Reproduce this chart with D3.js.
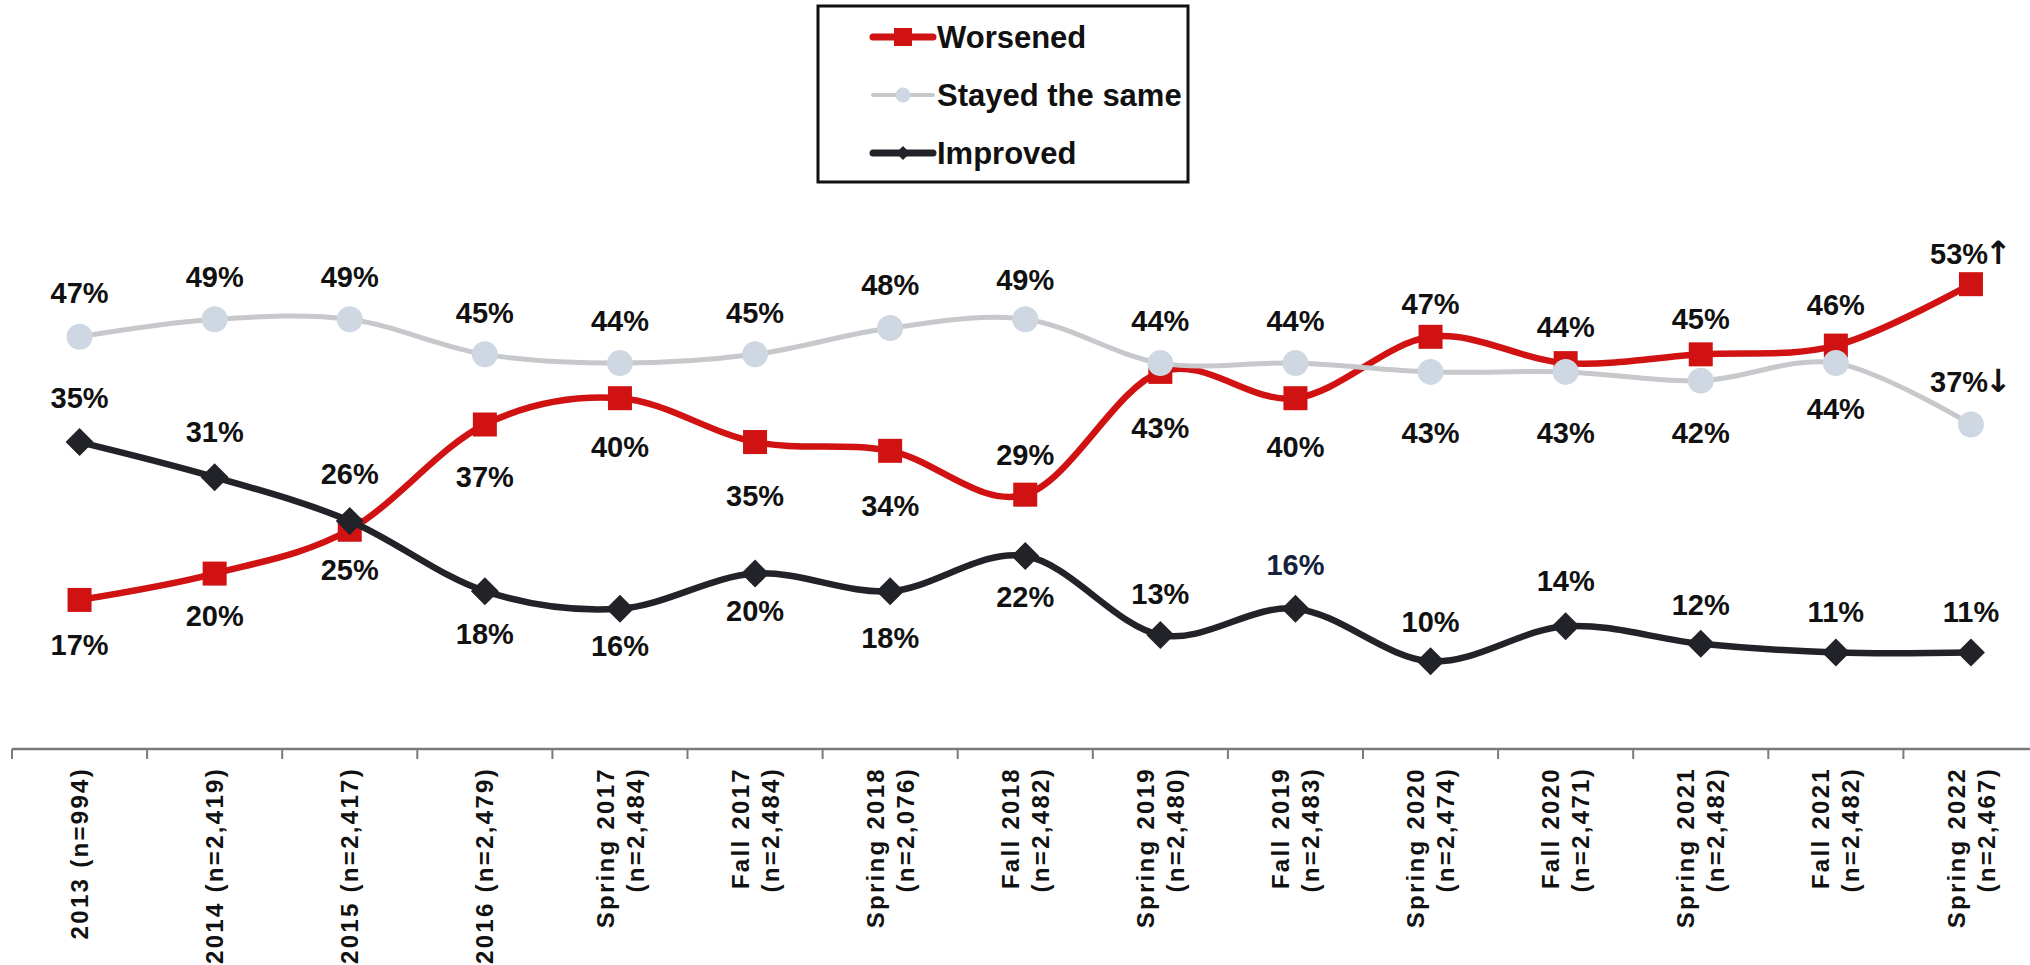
<!DOCTYPE html>
<html><head><meta charset="utf-8">
<script src="https://cdn.jsdelivr.net/npm/d3@7"></script>
<style>
html,body{margin:0;padding:0;background:#fff;}
svg{display:block;}
text{font-family:"Liberation Sans", Arial, sans-serif;font-weight:bold;fill:#111;}
</style>
</head><body><svg id="chart" width="2030" height="965"></svg>
<script>
// ---------- data ----------
const periods = ["2013","2014","2015","2016","Spring 2017","Fall 2017","Spring 2018","Fall 2018","Spring 2019","Fall 2019","Spring 2020","Fall 2020","Spring 2021","Fall 2021","Spring 2022"];
const sampleSizes = ["n=994","n=2,419","n=2,417","n=2,479","n=2,484","n=2,484","n=2,076","n=2,482","n=2,480","n=2,483","n=2,474","n=2,471","n=2,482","n=2,482","n=2,467"];
const worsened   = [17,20,25,37,40,35,34,29,43,40,47,44,45,46,53];
const stayedSame = [47,49,49,45,44,45,48,49,44,44,43,43,42,44,37];
const improved   = [35,31,26,18,16,20,18,22,13,16,10,14,12,11,11];
const seriesNames = ["Worsened","Stayed the same","Improved"];
const lastChange = {"Worsened":"↑","Stayed the same":"↓","Improved":""};

// ---------- label placement (px offset from point) ----------
const worsenedLabelDy = [45,42,40,52,48,54,55,-40,56,48,-33,-37,-36,-41,-31];
const stayedLabelDy   = [-44,-43,-43,-42,-43,-42,-43,-40,-43,-43,61,61,52,45,-43];
const improvedLabelDy = [-44,-46,-47,42,37,37,46,40,-41,-44,-40,-46,-39,-41,-41];

// ---------- layout ----------
const svg = d3.select("#chart");
const axisY = 749;
const x = d3.scaleBand().domain(periods).range([12, 12 + 15*135.1]).padding(0);
const y = d3.scaleLinear().domain([0, 60]).range([axisY, axisY - 60*8.77]);
const cx = p => x(p) + x.bandwidth()/2;

const series = [
  {name:seriesNames[0], values:worsened, dy:worsenedLabelDy, color:"#d01212", width:6.5, marker:"square"},
  {name:seriesNames[1], values:stayedSame, dy:stayedLabelDy, color:"#c6c8cb", width:5, marker:"circle", fill:"#cfd8e2"},
  {name:seriesNames[2], values:improved, dy:improvedLabelDy, color:"#222328", width:6.5, marker:"diamond"}
];

// ---------- x axis ----------
const axis = d3.axisBottom(x).tickSize(0).tickSizeOuter(0).tickFormat("");
const gAxis = svg.append("g").attr("transform", `translate(0,${axisY})`).call(axis);
gAxis.select(".domain").attr("stroke","#7a7a7a").attr("stroke-width",2.5)
  .attr("d", `M${x.range()[0]},0H${x.range()[1]}`);
gAxis.selectAll(".tick").remove();
svg.append("g").selectAll("line").data(periods).join("line")
  .attr("x1", d => x(d)).attr("x2", d => x(d))
  .attr("y1", axisY).attr("y2", axisY + 10)
  .attr("stroke","#7a7a7a").attr("stroke-width",2);

const labG = svg.append("g");
periods.forEach((p, i) => {
  const t = labG.append("text")
    .attr("transform", `translate(${cx(p)},767) rotate(-90)`)
    .attr("text-anchor","end")
    .style("font-size","24px")
    .style("letter-spacing","2.3px");
  if (i < 4) {
    t.append("tspan").attr("x",0).attr("dy","0.36em").text(`${p} (${sampleSizes[i]})`);
  } else {
    t.append("tspan").attr("x",0).attr("y",-15).attr("dy","0.36em").text(p);
    t.append("tspan").attr("x",0).attr("y",15).attr("dy","0.36em").text(`(${sampleSizes[i]})`);
  }
});

// ---------- lines & markers ----------
const line = d3.line().x((d,i) => cx(periods[i])).y(d => y(d)).curve(d3.curveCardinal.tension(0));

function drawMarker(g, type, color, fill, px, py, s) {
  if (type === "square") {
    g.append("rect").attr("x", px - s/2).attr("y", py - s/2).attr("width", s).attr("height", s).attr("fill", color);
  } else if (type === "circle") {
    g.append("circle").attr("cx", px).attr("cy", py).attr("r", s/2).attr("fill", fill);
  } else {
    const h = s/2 + 2;
    g.append("path").attr("d", `M${px},${py-h}L${px+h},${py}L${px},${py+h}L${px-h},${py}Z`).attr("fill", color);
  }
}

series.forEach(s => {
  const g = svg.append("g");
  g.append("path").datum(s.values).attr("d", line)
    .attr("fill","none").attr("stroke", s.color).attr("stroke-width", s.width)
    .attr("stroke-linejoin","round").attr("stroke-linecap","round");
  s.values.forEach((v, i) => {
    drawMarker(g, s.marker, s.color, s.fill, cx(periods[i]), y(v), s.marker === "circle" ? 26 : 24);
  });
});

// ---------- data labels ----------
series.forEach(s => {
  const g = svg.append("g");
  s.values.forEach((v, i) => {
    const t = g.append("text")
      .attr("x", cx(periods[i]))
      .attr("y", y(v) + s.dy[i])
      .attr("dy","0.36em")
      .attr("text-anchor","middle")
      .style("font-size","29px");
    t.append("tspan").text(v + "%");
    if (i === s.values.length - 1 && lastChange[s.name]) {
      t.append("tspan").attr("dx", -3).style("font-family","'DejaVu Sans', sans-serif").style("font-size","32px").text(lastChange[s.name]);
    }
    if (s.name === "Improved" && periods[i] === "Fall 2019") t.style("fill","#14223c");
  });
});

// ---------- legend ----------
const lg = svg.append("g");
lg.append("rect").attr("x",818).attr("y",6).attr("width",370).attr("height",176)
  .attr("fill","#fff").attr("stroke","#111").attr("stroke-width",3);
const legendRows = [37, 95, 153];
series.forEach((s, i) => {
  const ly = legendRows[i];
  lg.append("line").attr("x1",873).attr("x2",933).attr("y1",ly).attr("y2",ly)
    .attr("stroke", s.color).attr("stroke-width", s.marker === "circle" ? 4 : 7).attr("stroke-linecap","round");
  if (s.marker === "square") lg.append("rect").attr("x",894).attr("y",ly-9).attr("width",18).attr("height",18).attr("fill",s.color);
  else if (s.marker === "circle") lg.append("circle").attr("cx",903).attr("cy",ly).attr("r",7.5).attr("fill",s.fill);
  else lg.append("path").attr("d",`M903,${ly-7}L910,${ly}L903,${ly+7}L896,${ly}Z`).attr("fill",s.color);
  lg.append("text").attr("x",937).attr("y",ly).attr("dy","0.36em").style("font-size","31px").text(s.name);
});
</script>
</body></html>
